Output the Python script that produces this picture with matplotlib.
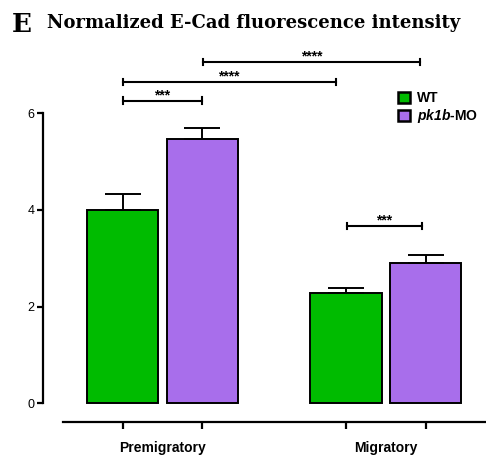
import matplotlib
matplotlib.use("Agg")
import matplotlib.pyplot as plt
import numpy as np

# Data
groups = ["Premigratory", "Migratory"]
wt_mean = [4.00, 2.28]
wt_err = [0.33, 0.11]
mo_mean = [5.47, 2.90]
mo_err = [0.23, 0.16]

# significance brackets: (x start, x end, y, label)
brackets = [
    (-0.177, 0.177, 6.26, "***"),
    (-0.177, 0.776, 6.65, "****"),
    (0.182, 1.152, 7.06, "****"),
    (0.825, 1.163, 3.67, "***"),
]

green = "#00bb00"
purple = "#a86eeb"

plt.rcParams["mathtext.fontset"] = "custom"
plt.rcParams["mathtext.it"] = "Liberation Sans:italic:bold"
plt.rcParams["mathtext.rm"] = "Liberation Sans:italic:bold"

fig = plt.figure(figsize=[4.86, 4.57], dpi=100)
ax = fig.add_axes([43 / 486, 35 / 457, 442 / 486, 382 / 457])

x = np.arange(len(groups))
width = 0.318
off = 0.178

ax.bar(x - off, wt_mean, width, color=green, edgecolor="black", linewidth=1.4,
       yerr=[np.zeros(2), wt_err], capsize=13,
       error_kw=dict(elinewidth=1.4, capthick=1.4, ecolor="black"), label="WT", zorder=3)
ax.bar(x + off, mo_mean, width, color=purple, edgecolor="black", linewidth=1.4,
       yerr=[np.zeros(2), mo_err], capsize=13,
       error_kw=dict(elinewidth=1.4, capthick=1.4, ecolor="black"),
       label=r"$pk1b$-MO", zorder=3)

ax.set_xlim(-0.534, 1.444)
ax.set_ylim(-0.387, 7.517)

for s in ["top", "right"]:
    ax.spines[s].set_visible(False)
ax.spines["left"].set_bounds(0, 6)
ax.spines["bottom"].set_bounds(-0.444, 1.444)
ax.spines["left"].set_linewidth(1.6)
ax.spines["bottom"].set_linewidth(1.6)

ax.set_yticks([0, 2, 4, 6])
ax.set_yticklabels(["0", "2", "4", "6"], fontsize=9, family="Liberation Sans")
ax.tick_params(axis="y", length=4, width=1.6, pad=2)
ax.set_xticks(np.concatenate([x - off, x + off]))
ax.set_xticklabels([])
ax.tick_params(axis="x", length=5, width=1.6)

for xi, g in zip(x, groups):
    ax.text(xi, -0.79, g, ha="center", va="top", fontsize=10, fontweight="bold",
            family="Liberation Sans")

for x0, x1, y, lab in brackets:
    ax.plot([x0, x1], [y, y], color="black", lw=1.5, clip_on=False)
    ax.plot([x0, x0], [y - 0.07, y + 0.07], color="black", lw=1.5, clip_on=False)
    ax.plot([x1, x1], [y - 0.07, y + 0.07], color="black", lw=1.5, clip_on=False)
    ax.text((x0 + x1) / 2, y - 0.03, lab, ha="center", va="bottom", fontsize=10,
            fontweight="bold", family="Liberation Sans")

# legend
leg = ax.legend(loc="upper left", bbox_to_anchor=(0.79, 0.88), frameon=False,
                handlelength=0.9, handleheight=0.9, handletextpad=0.5,
                labelspacing=0.15, borderaxespad=0)
for t in leg.get_texts():
    t.set_fontsize(10)
    t.set_fontweight("bold")
    t.set_family("Liberation Sans")
for h in leg.legend_handles:
    h.set_linewidth(1.8)

fig.text(12 / 486, 1 - 32 / 457, "E", fontsize=19, family="DejaVu Serif",
         fontweight="bold", va="baseline")
fig.text(47 / 486, 1 - 28 / 457, "Normalized E-Cad fluorescence intensity",
         fontsize=13, family="DejaVu Serif", fontweight="bold", va="baseline")

fig.savefig("out.png", dpi=100)
